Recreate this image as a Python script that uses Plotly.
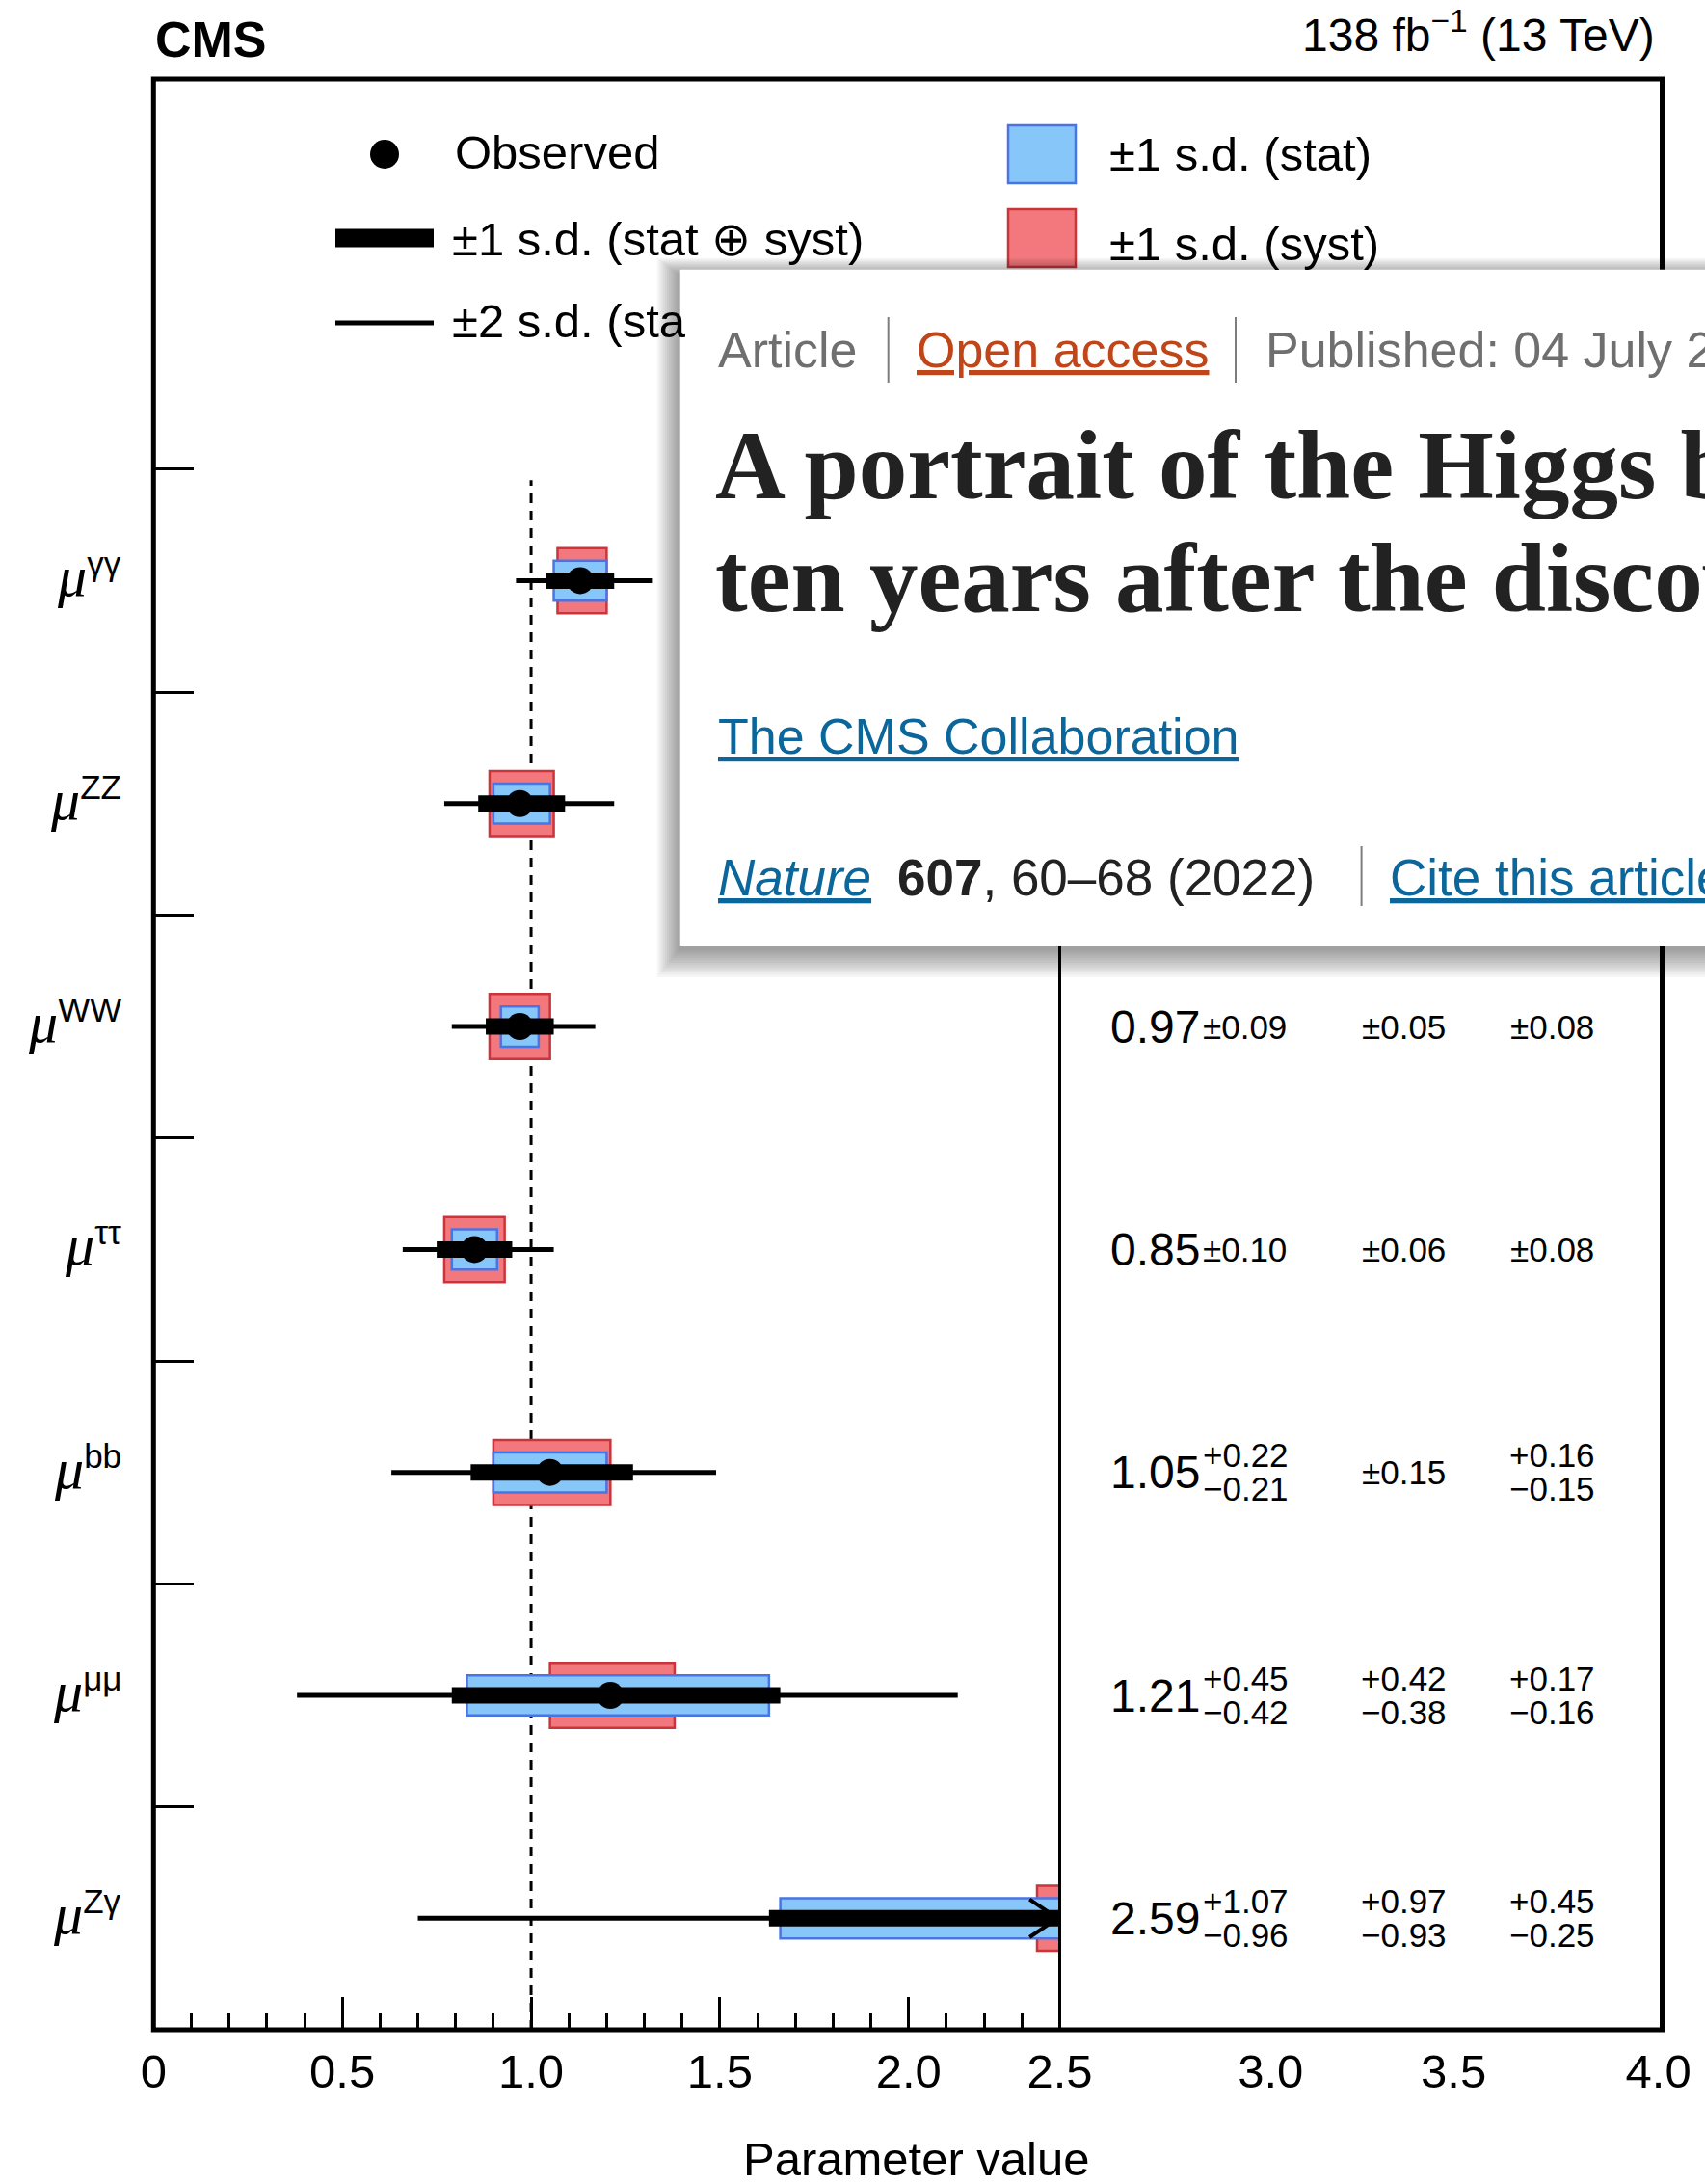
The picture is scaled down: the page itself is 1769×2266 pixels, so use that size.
import plotly.graph_objects as go

# ---------------- data ----------------
channels = ["γγ", "ZZ", "WW", "ττ", "bb", "μμ", "Zγ"]
mu      = [1.13, 0.97, 0.97, 0.85, 1.05, 1.21, 2.59]
tot_lo  = [0.09, 0.11, 0.09, 0.10, 0.21, 0.42, 0.96]
tot_hi  = [0.09, 0.12, 0.09, 0.10, 0.22, 0.45, 1.07]
stat_lo = [0.07, 0.07, 0.05, 0.06, 0.15, 0.38, 0.93]
stat_hi = [0.07, 0.08, 0.05, 0.06, 0.15, 0.42, 0.97]
syst_lo = [0.06, 0.08, 0.08, 0.08, 0.15, 0.16, 0.25]
syst_hi = [0.07, 0.09, 0.08, 0.08, 0.16, 0.17, 0.45]
two_lo  = [0.17, 0.20, 0.18, 0.19, 0.42, 0.83, 1.89]
two_hi  = [0.19, 0.25, 0.20, 0.21, 0.44, 0.92, 2.10]

x_ticks_left = [0, 0.5, 1.0, 1.5, 2.0, 2.4]
x_ticktext_left = ["0", "0.5", "1.0", "1.5", "2.0", "2.5"]
x_ticks_right = [2.96, 3.446, 3.99]
x_ticktext_right = ["3.0", "3.5", "4.0"]
x_minor = [0.1, 0.2, 0.3, 0.4, 0.6, 0.7, 0.8, 0.9, 1.1, 1.2, 1.3, 1.4,
           1.6, 1.7, 1.8, 1.9, 2.1, 2.2, 2.3]

# ---------------- layout constants ----------------
W, H = 1769, 2266
X_L, X_D, X_R = 159.3, 1099.5, 1724.5
Y_T, Y_B = 82, 2106
XMAX = 2.4
YMAX = 8.75
UNIT = (Y_B - Y_T) / YMAX
SANS = "Liberation Sans, Arial, Helvetica, sans-serif"
SERIF = "Liberation Serif, Times New Roman, serif"
RED_FILL, RED_EDGE = "#f2787d", "#c9353b"
BLUE_FILL, BLUE_EDGE = "#86c6f8", "#4a74e4"
CX0, CY0, CY1 = 705.7, 279.8, 981   # article card


def px(x):
    return x / W


def py(y):
    return 1 - y / H


def ypix(v):
    return Y_B - v * UNIT


n = len(channels)
ypos = [n - i - 0.5 for i in range(n)]

fig = go.Figure()

# syst boxes
fig.add_trace(go.Bar(
    orientation="h", y=ypos,
    x=[l + h for l, h in zip(syst_lo, syst_hi)],
    base=[m - l for m, l in zip(mu, syst_lo)],
    width=0.292, marker=dict(color=RED_FILL, line=dict(color=RED_EDGE, width=2.5)),
    showlegend=False, hoverinfo="skip"))
# stat boxes
fig.add_trace(go.Bar(
    orientation="h", y=ypos,
    x=[l + h for l, h in zip(stat_lo, stat_hi)],
    base=[m - l for m, l in zip(mu, stat_lo)],
    width=0.18, marker=dict(color=BLUE_FILL, line=dict(color=BLUE_EDGE, width=2.5)),
    showlegend=False, hoverinfo="skip"))


def seg(lo, hi):
    xs, ys = [], []
    for m, a, b, y in zip(mu, lo, hi, ypos):
        xs += [m - a, m + b, None]
        ys += [y, y, None]
    return xs, ys


xs, ys = seg(two_lo, two_hi)
fig.add_trace(go.Scatter(x=xs, y=ys, mode="lines", line=dict(color="black", width=5),
                         showlegend=False, hoverinfo="skip"))
xs, ys = seg(tot_lo, tot_hi)
fig.add_trace(go.Scatter(x=xs, y=ys, mode="lines", line=dict(color="black", width=17),
                         showlegend=False, hoverinfo="skip"))
fig.add_trace(go.Scatter(x=mu, y=ypos, mode="markers", cliponaxis=True,
                         marker=dict(size=28, color="black"), showlegend=False, hoverinfo="skip"))
# out-of-range arrows
ax_, ay_ = [], []
for m, y in zip(mu, ypos):
    if m > XMAX:
        ax_ += [XMAX - 0.08, XMAX - 0.006, XMAX - 0.08, None]
        ay_ += [y + 0.085, y, y - 0.085, None]
fig.add_trace(go.Scatter(x=ax_, y=ay_, mode="lines", line=dict(color="black", width=4),
                         showlegend=False, hoverinfo="skip"))
# dummy trace for right axis
fig.add_trace(go.Scatter(x=[3.0], y=[0.5], xaxis="x2", yaxis="y", mode="markers",
                         marker=dict(opacity=0), showlegend=False, hoverinfo="skip"))

tickfont = dict(family=SANS, size=49, color="black")

shapes = [
    dict(type="line", xref="x", yref="y", x0=1.0, x1=1.0, y0=0, y1=6.95, layer="below",
         line=dict(color="black", width=3, dash="10px,8px")),
    dict(type="rect", xref="paper", yref="paper", x0=px(X_L), x1=px(X_R), y0=py(Y_B), y1=py(Y_T),
         line=dict(color="black", width=5)),
    dict(type="line", xref="paper", yref="paper", x0=px(X_D), x1=px(X_D), y0=py(Y_B),
         y1=py(ypix(7)), line=dict(color="black", width=3)),
    # legend keys
    dict(type="circle", xref="paper", yref="paper", x0=px(384), x1=px(414), y0=py(175), y1=py(145),
         fillcolor="black", line=dict(width=0)),
    dict(type="line", xref="paper", yref="paper", x0=px(348), x1=px(450), y0=py(247), y1=py(247),
         line=dict(color="black", width=19)),
    dict(type="line", xref="paper", yref="paper", x0=px(348), x1=px(450), y0=py(335), y1=py(335),
         line=dict(color="black", width=5)),
    dict(type="rect", xref="paper", yref="paper", x0=px(1046), x1=px(1116), y0=py(190), y1=py(130),
         fillcolor=BLUE_FILL, line=dict(color=BLUE_EDGE, width=2.5)),
    dict(type="rect", xref="paper", yref="paper", x0=px(1046), x1=px(1116), y0=py(277), y1=py(217),
         fillcolor=RED_FILL, line=dict(color=RED_EDGE, width=2.5)),
]

# ---------------- article card overlay (shadow + card) ----------------
for k in range(1, 13):
    left = CX0 - 2.0 * k
    top = CY0 - 1.5 * k + 6
    bot = CY1 + 2.5 * k + 3
    shapes.append(dict(type="rect", xref="paper", yref="paper", x0=px(left), x1=px(1830),
                       y0=py(bot), y1=py(top), fillcolor="rgba(0,0,0,0.036)",
                       line=dict(width=0)))
shapes.append(dict(type="rect", xref="paper", yref="paper", x0=px(CX0), x1=px(1830),
                   y0=py(CY1), y1=py(CY0), fillcolor="white", line=dict(width=0)))


def vsep(x, y0, y1):
    shapes.append(dict(type="line", xref="paper", yref="paper", x0=px(x), x1=px(x),
                       y0=py(y1), y1=py(y0), line=dict(color="#7d7d7d", width=2)))


vsep(921.7, 329, 397)
vsep(1282, 329, 397)
vsep(1412.6, 878, 940)

ann = []


def text(t, x, y, size, color="black", family=SANS, xanchor="left", yanchor="middle", **kw):
    d = dict(text=t, xref="paper", yref="paper", x=px(x), y=py(y), xanchor=xanchor,
             yanchor=yanchor, showarrow=False, font=dict(family=family, size=size, color=color))
    d.update(kw)
    ann.append(d)


# category labels
for c, y in zip(channels, ypos):
    ann.append(dict(
        text=('<span style="font-family:Liberation Serif;font-style:italic;font-size:60px">μ</span>'
              f'<sup>{c}</sup>'),
        xref="paper", yref="y", x=px(128), y=y, xanchor="right", yanchor="middle", yshift=4,
        showarrow=False, font=dict(family=SANS, size=50, color="black")))

# header
text("<b>CMS</b>", 159, 41, 52)
text("138 fb<sup>−1</sup> (13 TeV)", 1719, 33, 48, xanchor="right")

# legend texts (the third one is partly hidden by the article card)
text("Observed", 470, 158, 49)
text("±1 s.d. (stat ⊕ syst)", 467, 248, 49)
text("±2 s.d. (sta", 467, 333, 49)
text("±1 s.d. (stat)", 1149, 160, 49)
text("±1 s.d. (syst)", 1149, 253, 49)


# value table (rows hidden behind the article card are not drawn)
def fmt_err(lo, hi):
    if abs(lo - hi) < 1e-9:
        return [f"±{lo:.2f}"]
    return [f"+{hi:.2f}", f"−{lo:.2f}"]


cols = [(tot_lo, tot_hi, 1246, "left"), (stat_lo, stat_hi, 1456, "center"),
        (syst_lo, syst_hi, 1610, "center")]
for i, y in enumerate(ypos):
    if CY0 - 30 < ypix(y) < CY1 + 30:
        continue
    ann.append(dict(text=f"{mu[i]:.2f}", xref="paper", yref="y", x=px(1150), y=y,
                    xanchor="left", yanchor="middle", showarrow=False,
                    font=dict(family=SANS, size=48, color="black")))
    for lo, hi, xc, anc in cols:
        parts = fmt_err(lo[i], hi[i])
        offs = [0] if len(parts) == 1 else [18 / UNIT, -17 / UNIT]
        for p, o in zip(parts, offs):
            ann.append(dict(text=p, xref="paper", yref="y", x=px(xc), y=y + o,
                            xanchor=anc, yanchor="middle", showarrow=False,
                            font=dict(family=SANS, size=35, color="black")))

# axis title
text("Parameter value", 951, 2240, 49, xanchor="center")

# card texts
GRAY = "#6f6f6f"
LINK = "#0b679b"
UL = '<span style="text-decoration:underline">'
text("Article", 743, 363, 52, color=GRAY)
text(UL + "Open access</span>", 949.4, 363, 52, color="#c0461a")
text("Published: 04 July 2022", 1310.5, 363, 52, color=GRAY)
text("<b>A portrait of the Higgs boson by the CMS experiment</b>", 740, 483, 101,
     color="#222222", family=SERIF)
text("<b>ten years after the discovery</b>", 740, 600, 101, color="#222222", family=SERIF)
text(UL + "The CMS Collaboration</span>", 742.5, 764, 52, color=LINK)
text(UL + "<i>Nature</i></span>", 742.5, 910, 53, color=LINK)
text("<b>607</b>, 60–68 (2022)", 928.6, 910, 53, color="#222222")
text(UL + "Cite this article</span>", 1440.4, 910, 53, color=LINK)

fig.update_layout(
    width=W, height=H, margin=dict(l=0, r=0, t=0, b=0, pad=0, autoexpand=False),
    paper_bgcolor="white", plot_bgcolor="rgba(0,0,0,0)",
    barmode="overlay", showlegend=False,
    xaxis=dict(domain=[px(X_L), px(X_D)], range=[0, XMAX], anchor="y", automargin=False,
               tickmode="array", tickvals=x_ticks_left, ticktext=x_ticktext_left,
               ticks="inside", ticklen=34, tickwidth=3, tickcolor="black",
               minor=dict(tickmode="array", tickvals=x_minor, ticks="inside", ticklen=17,
                          tickwidth=3, tickcolor="black", showgrid=False),
               showline=False, showgrid=False, zeroline=False, tickfont=tickfont,
               ticklabelstandoff=10, fixedrange=True),
    xaxis2=dict(domain=[px(X_D), px(X_R)], range=[XMAX, 4.0], anchor="y", automargin=False,
                tickmode="array", tickvals=x_ticks_right, ticktext=x_ticktext_right,
                ticks="", showline=False, showgrid=False, zeroline=False, tickfont=tickfont,
                ticklabelstandoff=10, fixedrange=True),
    yaxis=dict(domain=[py(Y_B), py(Y_T)], range=[0, YMAX], anchor="x", automargin=False,
               tickmode="array", tickvals=[1, 2, 3, 4, 5, 6, 7],
               ticks="inside", ticklen=42, tickwidth=3, tickcolor="black",
               showticklabels=False, showline=False, showgrid=False, zeroline=False,
               fixedrange=True),
    shapes=shapes, annotations=ann,
)

fig.write_html("out.html", config={"displayModeBar": False},
               post_script="document.body.style.margin='0';")
